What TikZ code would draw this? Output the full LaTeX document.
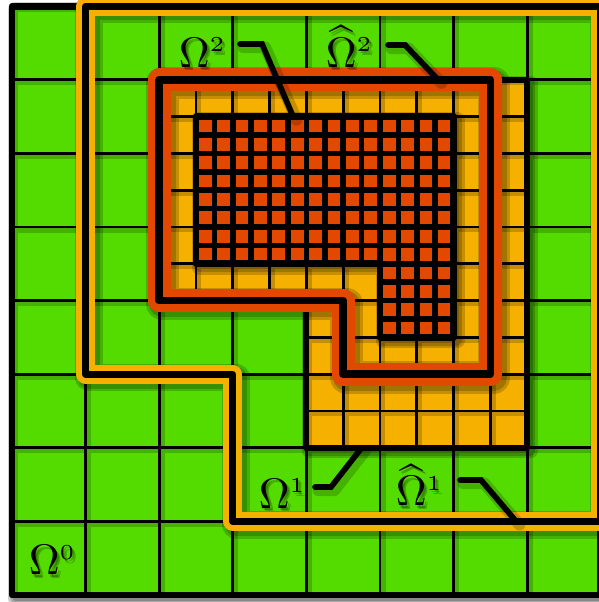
\documentclass[tikz,border=0pt]{standalone}
\usetikzlibrary{calc}
\definecolor{gr}{RGB}{84,220,0}
\definecolor{og}{RGB}{246,176,0}
\definecolor{rd}{RGB}{226,72,0}
\newcommand\shd[2]{%
  \draw[shd, line width=#1+3.4pt] #2;
  \draw[shd, line width=#1+1.2pt] #2;}
\newcommand\lab[3]{%
  \node[lbl, text opacity=0.22] at ($#2+(0.045,-0.05)$) {#3};
  \node[lbl, text opacity=0.22] at ($#2+(0.025,-0.028)$) {#3};
  \node[lbl] (#1) at #2 {#3};}
\begin{document}
\begin{tikzpicture}[x=1cm,y=1cm,
  shd/.style={draw=black, draw opacity=0.19, line join=round, line cap=round,
    transform canvas={shift={(0.045,-0.045)}}},
  lbl/.style={inner sep=0pt, anchor=base west, scale=1.65},
  leader/.style={draw=black, line width=2.2pt, line cap=round},
  gridline/.style={draw=black, line width=1.15pt},
]
\useasboundingbox (-0.163,-0.095) rectangle (7.962,8.084);

% level 0 (green)
\shd{2.6pt}{(0,0) rectangle (8,8)}
\fill[gr] (0,0) rectangle (8,8);
\draw[shd, line width=1.8pt] (0,0) grid (8,8);
\draw[gridline] (0,0) grid (8,8);
\draw[line width=2.6pt, line join=round] (0,0) rectangle (8,8);

% hat Omega^1 boundary
\shd{7.3pt}{(1,8) -- (8,8) -- (8,1) -- (3,1) -- (3,3) -- (1,3) -- cycle}
\draw[og, line width=7.3pt, line join=round] (1,8) -- (8,8) -- (8,1) -- (3,1) -- (3,3) -- (1,3) -- cycle;
\draw[line width=2.7pt, line join=round] (1,8) -- (8,8) -- (8,1) -- (3,1) -- (3,3) -- (1,3) -- cycle;

% Omega^1 region (orange)
\shd{2.3pt}{(2,7) -- (7,7) -- (7,2) -- (4,2) -- (4,4) -- (2,4) -- cycle}
\fill[og] (2,7) -- (7,7) -- (7,2) -- (4,2) -- (4,4) -- (2,4) -- cycle;
\begin{scope}
  \clip (2,7) -- (7,7) -- (7,2) -- (4,2) -- (4,4) -- (2,4) -- cycle;
  \draw[shd, line width=1.6pt] (2,2) grid[step=0.5] (7,7);
  \draw[gridline, line width=1.1pt] (2,2) grid[step=0.5] (7,7);
\end{scope}
\draw[line width=2.3pt, line join=round] (2,7) -- (7,7) -- (7,2) -- (4,2) -- (4,4) -- (2,4) -- cycle;

% hat Omega^2 boundary
\shd{9pt}{(2,7) -- (6.5,7) -- (6.5,3) -- (4.5,3) -- (4.5,4) -- (2,4) -- cycle}
\draw[rd, line width=9pt, line join=round] (2,7) -- (6.5,7) -- (6.5,3) -- (4.5,3) -- (4.5,4) -- (2,4) -- cycle;
\draw[line width=3pt, line join=round] (2,7) -- (6.5,7) -- (6.5,3) -- (4.5,3) -- (4.5,4) -- (2,4) -- cycle;

% Omega^2 region (red)
\shd{2.6pt}{(2.5,6.5) -- (6,6.5) -- (6,3.5) -- (5,3.5) -- (5,4.5) -- (2.5,4.5) -- cycle}
\fill[rd] (2.5,6.5) -- (6,6.5) -- (6,3.5) -- (5,3.5) -- (5,4.5) -- (2.5,4.5) -- cycle;
\begin{scope}
  \clip (2.5,6.5) -- (6,6.5) -- (6,3.5) -- (5,3.5) -- (5,4.5) -- (2.5,4.5) -- cycle;
  \draw[gridline, line width=2.1pt] (2.5,3.5) grid[step=0.25] (6,6.5);
\end{scope}
\draw[line width=2.6pt, line join=round] (2.5,6.5) -- (6,6.5) -- (6,3.5) -- (5,3.5) -- (5,4.5) -- (2.5,4.5) -- cycle;

% labels (with soft shadows)
\lab{L0}{(0.217,0.272)}{$\Omega^{\scriptscriptstyle 0}$}
\lab{L1}{(3.342,1.182)}{$\Omega^{\scriptscriptstyle 1}$}
\lab{H1}{(5.204,1.21)}{$\widehat{\Omega}{}^{\scriptscriptstyle 1}$}
\lab{L2}{(2.255,7.17)}{$\Omega^{\scriptscriptstyle 2}$}
\lab{H2}{(4.253,7.17)}{$\widehat{\Omega}{}^{\scriptscriptstyle 2}$}

% leader lines
\coordinate (L2a) at (3.098,7.486);
\coordinate (L2b) at (3.397,7.486);
\coordinate (L2e) at (3.82,6.5);
\coordinate (H2a) at (5.109,7.473);
\coordinate (H2b) at (5.34,7.473);
\coordinate (H2e) at (5.79,7);
\coordinate (L1a) at (4.117,1.467);
\coordinate (L1b) at (4.334,1.467);
\coordinate (L1e) at (4.75,2);
\coordinate (H1a) at (6.087,1.5625);
\coordinate (H1b) at (6.372,1.5625);
\coordinate (H1e) at (6.85,1);
\foreach \n in {L2,H2,L1,H1}{
  \draw[shd, line width=4.5pt] (\n a) -- (\n b) -- (\n e);
  \draw[leader] (\n a) -- (\n b) -- (\n e);
}
\end{tikzpicture}
\end{document}
